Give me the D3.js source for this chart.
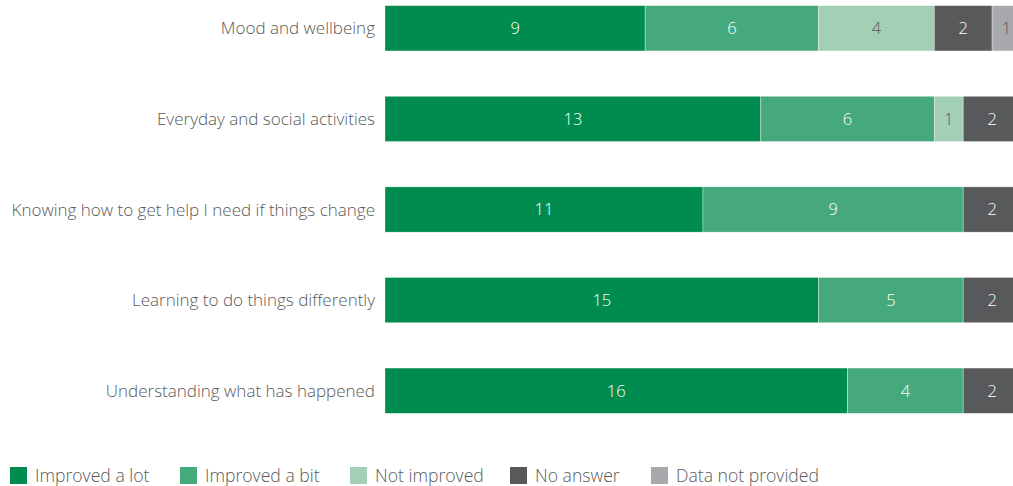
<!DOCTYPE html>
<html><head><meta charset="utf-8">
<script src="https://cdn.jsdelivr.net/npm/d3@7"></script>
<style>body{margin:0;background:#fff;overflow:hidden}svg{display:block}text{font-family:"Open Sans",sans-serif;font-weight:300}</style>
</head><body><svg id="c" width="1013" height="486"></svg>
<script>
const categories = ["Mood and wellbeing","Everyday and social activities","Knowing how to get help I need if things change","Learning to do things differently","Understanding what has happened"];
const seriesNames = ["Improved a lot","Improved a bit","Not improved","No answer","Data not provided"];
const improvedLot = [9,13,11,15,16];
const improvedBit = [6,6,9,5,4];
const notImproved = [4,1,0,0,0];
const noAnswer = [2,2,2,2,2];
const dataNotProvided = [1,0,0,0,0];
const colors = ["#008c4f","#45a97d","#a2cfb6","#58595b","#a7a9ac"];
const labelColors = ["#fff","#fff","#58595b","#fff","#58595b"];

const allSeries = [improvedLot, improvedBit, notImproved, noAnswer, dataNotProvided];
const rows = categories.map((c,i)=>{const o={cat:c}; seriesNames.forEach((s,j)=>o[s]=allSeries[j][i]); return o;});
const stacked = d3.stack().keys(seriesNames)(rows);

const svg = d3.select("#c");
const x = d3.scaleLinear().domain([0,22]).range([385,1021]);
const y = d3.scaleBand().domain(categories).range([-17,436]).paddingInner(0.5).paddingOuter(0.25);

const g = svg.append("g");
stacked.forEach((layer,j)=>{
  const lg = g.append("g");
  lg.selectAll("rect").data(layer).join("rect")
    .attr("x",d=>x(d[0])).attr("y",d=>y(d.data.cat))
    .attr("width",d=>Math.max(0,x(d[1])-x(d[0]))).attr("height",y.bandwidth())
    .attr("fill",colors[j]).attr("stroke","#fff").attr("stroke-width",0.6).attr("stroke-opacity",0.6);
  lg.selectAll("text").data(layer.filter(d=>d[1]-d[0]>0)).join("text")
    .attr("x",d=>(x(d[0])+x(d[1]))/2)
    .attr("y",d=>y(d.data.cat)+y.bandwidth()/2)
    .attr("dy","0.36em").attr("text-anchor","middle")
    .attr("font-size",16.5).attr("fill",labelColors[j])
    .text(d=>d[1]-d[0]);
});

svg.append("g").selectAll("text").data(categories).join("text")
  .attr("x",375).attr("y",d=>y(d)+y.bandwidth()/2).attr("dy","0.36em")
  .attr("text-anchor","end").attr("font-size",17).attr("fill","#595959").text(d=>d);

const legendX = [10,180,350,510,651];
const lg = svg.append("g");
seriesNames.forEach((s,i)=>{
  lg.append("rect").attr("x",legendX[i]).attr("y",467).attr("width",17).attr("height",17).attr("fill",colors[i]);
  lg.append("text").attr("x",legendX[i]+25).attr("y",476).attr("dy","0.36em")
    .attr("font-size",17.6).attr("fill","#595959").text(s);
});
</script></body></html>
